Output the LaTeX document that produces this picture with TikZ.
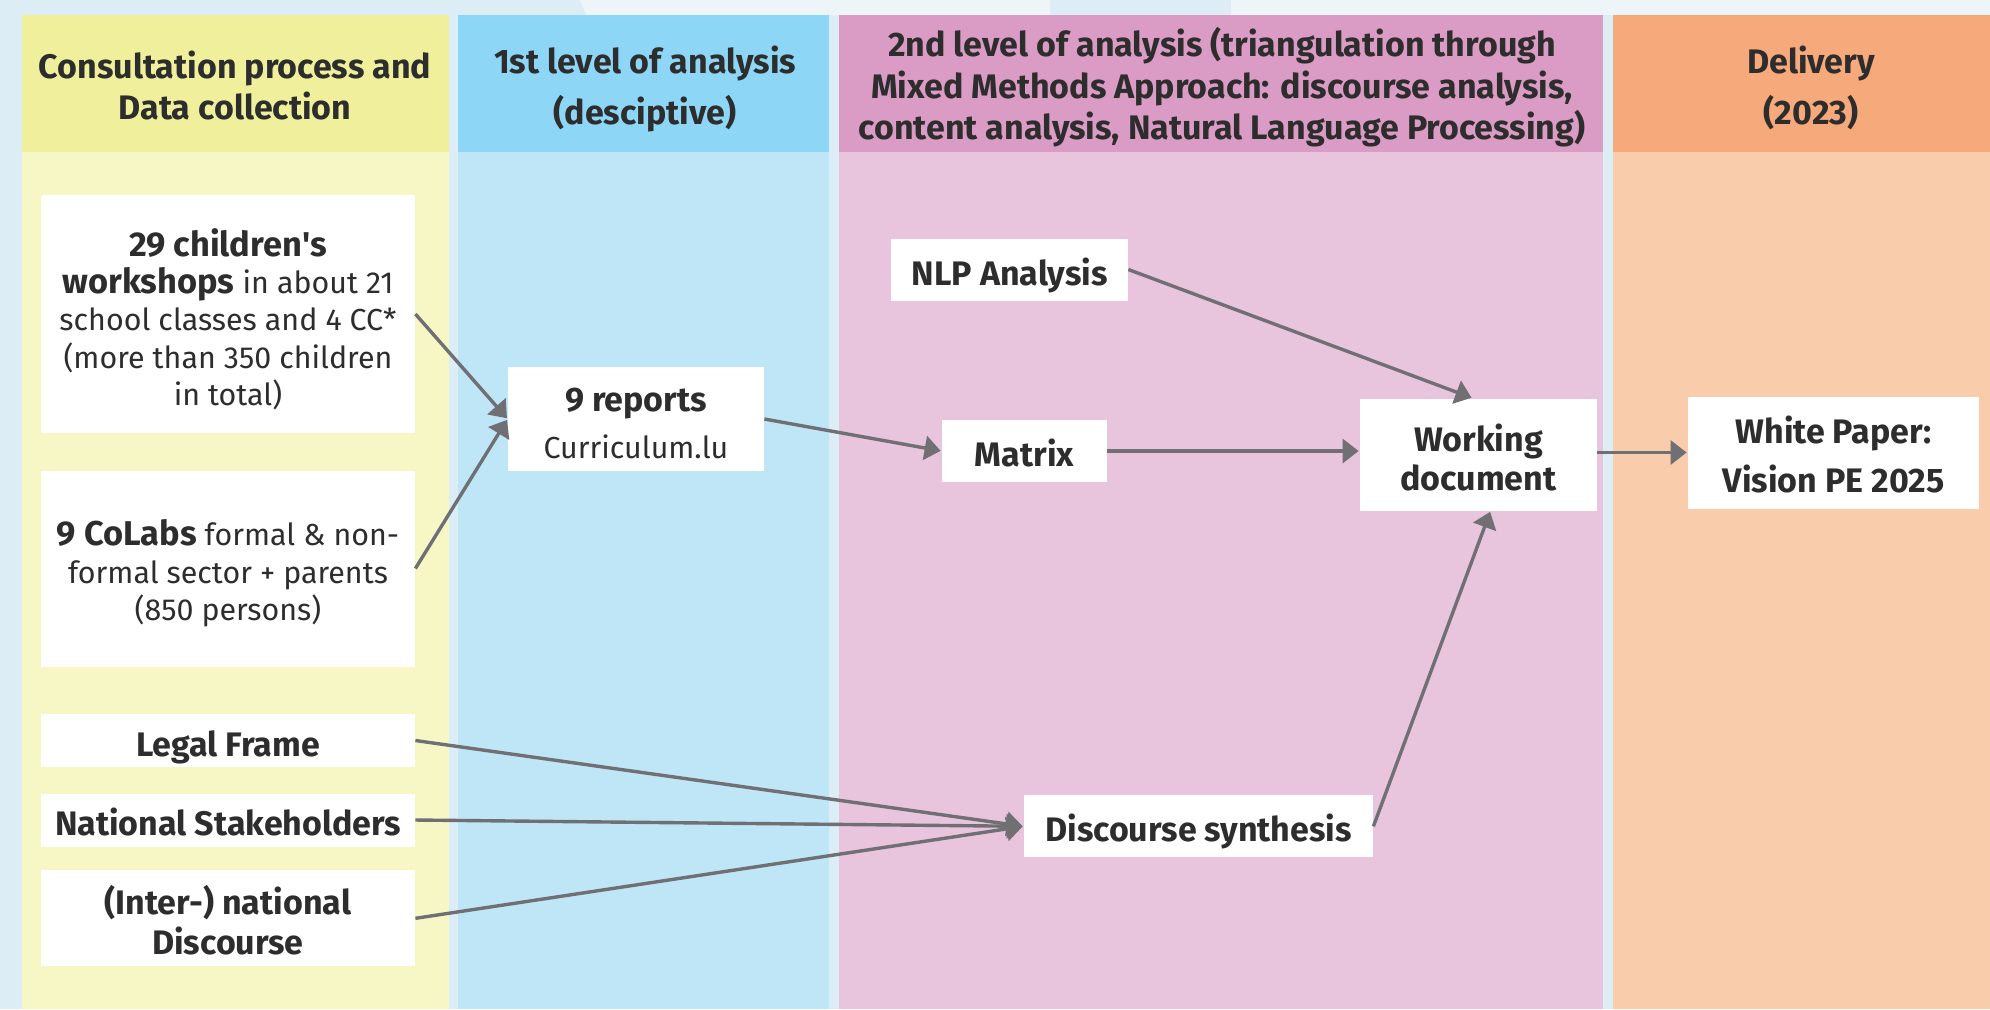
\documentclass[tikz,border=0pt]{standalone}
\usepackage{fontspec}
\setmainfont{Fira Sans}
\usetikzlibrary{arrows.meta}
\definecolor{bgc}{HTML}{DCEDF6}
\definecolor{bgw}{HTML}{EDF5F9}
\definecolor{cAh}{HTML}{F0F09C}
\definecolor{cAb}{HTML}{F7F7C6}
\definecolor{cBh}{HTML}{8DD6F5}
\definecolor{cBb}{HTML}{BEE6F7}
\definecolor{cCh}{HTML}{DA9BC4}
\definecolor{cCb}{HTML}{E9C4DD}
\definecolor{cDh}{HTML}{F6A97A}
\definecolor{cDb}{HTML}{F9CDAB}
\definecolor{txt}{HTML}{2D2D2D}
\definecolor{arr}{HTML}{707074}
\newcommand\sq{\XeTeXglyph\XeTeXcharglyph"27\relax}
\newcommand\bsz{\fontsize{17.2}{18.7}\selectfont\bfseries}
\begin{document}
\begin{tikzpicture}[x=0.5pt,y=-0.5pt,
  head/.style={align=center,text=txt,inner sep=0pt,font=\fontsize{17}{25.3}\selectfont\bfseries},
  box/.style={fill=white,align=center,text=txt,inner sep=0pt,font=\fontsize{15.2}{18.7}\selectfont},
  bb/.style={box,font=\fontsize{17}{18.5}\selectfont\bfseries},
  conn/.style={draw=arr,line width=1.7pt,-{Triangle[length=8pt,width=12pt]},shorten >=0.5pt}]
\useasboundingbox (0,0) rectangle (1990,1009);
\fill[bgc] (0,0) rectangle (1990,1009);
\fill[bgw] (580,0) -- (1050,0) -- (1050,15) -- (586,15) -- cycle;
\fill[bgw] (1231,0) rectangle (1990,15);
% columns
\fill[cAb] (22,15) rectangle (449,1009);
\fill[cAh] (22,15) rectangle (449,152);
\fill[cBb] (458,15) rectangle (829,1009);
\fill[cBh] (458,15) rectangle (829,152);
\fill[cCb] (839,15) rectangle (1603,1009);
\fill[cCh] (839,15) rectangle (1603,152);
\fill[cDb] (1613,15) rectangle (2010,1009);
\fill[cDh] (1613,15) rectangle (2010,152);
% headers
\node[head,font=\fontsize{17}{20.5}\selectfont\bfseries,text height=35.5pt,text depth=0pt] (hA) at (235,83.5) {Consultation process and\\Data collection};
\node[head,text height=40.8pt,text depth=0pt] (hB) at (645,83.5) {1st level of analysis\\(desciptive)};
\node[head,font=\fontsize{17}{20.7}\selectfont\bfseries,text height=56.2pt,text depth=0pt] (hC) at (1222,83.5) {2nd level of analysis (triangulation through\\Mixed Methods Approach: discourse analysis,\\content analysis, Natural Language Processing)};
\node[head,text height=40.8pt,text depth=0pt] (hD) at (1811,83.5) {Delivery\\(2023)};
% boxes
\node[box,minimum width=187pt,minimum height=119pt,text height=91.6pt,text depth=0pt] (ws) at (228,314)
  {{\bsz 29 children\sq s}\\{\bsz workshops} in about 21\\school classes and 4 CC*\\(more than 350 children\\in total)};
\node[box,minimum width=187pt,minimum height=98pt,text height=52.2pt,text depth=0pt] (cl) at (228,568.5)
  {{\bsz 9 CoLabs} formal \& non-\\formal sector + parents\\(850 persons)};
\node[bb,minimum width=187pt,minimum height=26.5pt,text height=15.5pt,text depth=0pt] (lf) at (228,740.5) {Legal Frame};
\node[bb,minimum width=187pt,minimum height=26.5pt,text height=15.7pt,text depth=0pt] (ns) at (228,820) {National Stakeholders};
\node[bb,minimum width=187pt,minimum height=48pt,font=\fontsize{17}{19.8}\selectfont\bfseries,text height=36pt,text depth=0pt] (id) at (228,918.3) {(Inter-) national\\Discourse};
\node[box,minimum width=128pt,minimum height=52pt,font=\fontsize{15.2}{23.3}\selectfont,text height=39.3pt,text depth=0pt] (rp) at (636,419)
  {{\fontsize{17}{23.3}\selectfont\bfseries 9 reports}\\Curriculum.lu};
\node[bb,minimum width=118.5pt,minimum height=31pt,text height=15.5pt,text depth=0pt] (nlp) at (1009.5,269.5) {NLP Analysis};
\node[bb,minimum width=82.5pt,minimum height=31pt,text height=15.1pt,text depth=0pt] (mx) at (1024.5,451) {Matrix};
\node[bb,minimum width=118.5pt,minimum height=56pt,font=\fontsize{17}{19.5}\selectfont\bfseries,text height=35.5pt,text depth=0pt] (wd) at (1478.5,454.5) {Working\\document};
\node[bb,minimum width=174.5pt,minimum height=31pt,text height=14.7pt,text depth=0pt] (ds) at (1198.5,826.3) {Discourse synthesis};
\node[bb,minimum width=145.5pt,minimum height=56pt,font=\fontsize{17}{24.7}\selectfont\bfseries,text height=40.2pt,text depth=0pt] (wp) at (1833.5,452.5) {White Paper:\\Vision PE 2025};
% connectors
\draw[conn] (ws.east) -- (rp.west);
\draw[conn] (cl.east) -- (rp.west);
\draw[conn] (rp.east) -- (mx.west);
\draw[conn] (nlp.east) -- ([xshift=-3pt]wd.north);
\draw[conn] (mx.east) -- (mx.east -| wd.west);
\draw[conn] (ds.east) -- ([xshift=6pt]wd.south);
\draw[conn] (wd.east |- wp.west) -- (wp.west);
\draw[conn] (lf.east) -- (ds.west);
\draw[conn] (ns.east) -- (ds.west);
\draw[conn] (id.east) -- (ds.west);
\end{tikzpicture}
\end{document}
